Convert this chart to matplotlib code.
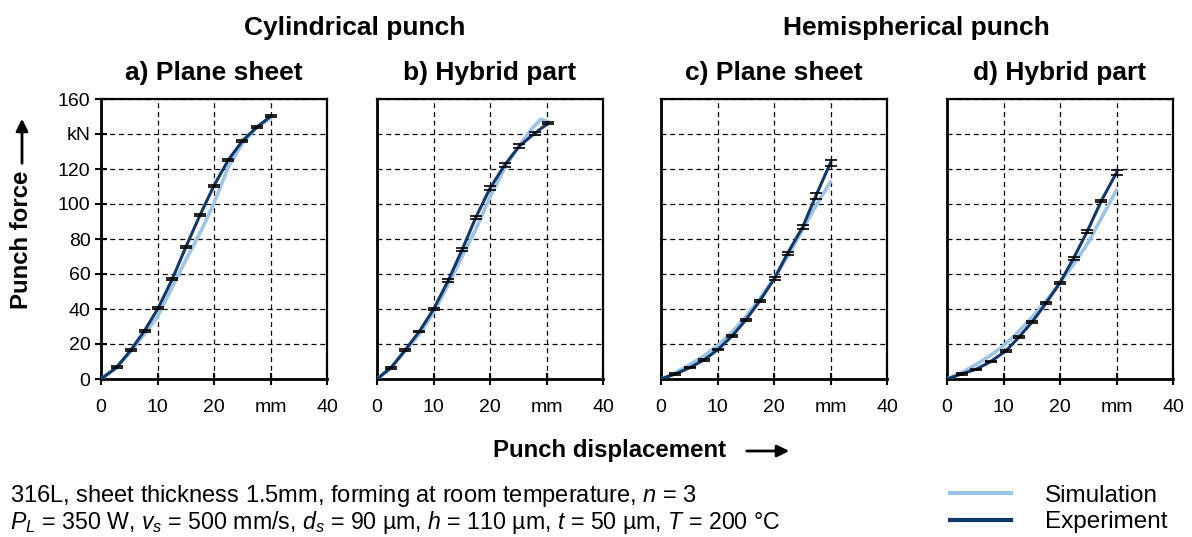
import matplotlib.pyplot as plt
from matplotlib.lines import Line2D

plt.rcParams['font.family'] = ['Liberation Sans', 'DejaVu Sans']
plt.rcParams['mathtext.fontset'] = 'custom'
plt.rcParams['mathtext.rm'] = 'Liberation Sans'
plt.rcParams['mathtext.it'] = 'Liberation Sans:italic'

# Kraft-Weg-Verläufe (Weg in mm, Kraft in kN)
exp_a_x = [0, 2.8, 5.3, 7.7, 10.1, 12.6, 15.0, 17.5, 20.0, 22.5, 25.0, 27.6, 30.1]
exp_a_y = [0, 6.7, 16.6, 27.6, 40.4, 57.0, 75.3, 93.5, 110.5, 125.0, 136.0, 144.0, 150.3]
exp_a_err = [0, 0.5, 0.5, 0.5, 0.6, 0.6, 0.6, 0.6, 0.6, 0.6, 0.6, 0.5, 0.5]
sim_a_x = [0, 2.5, 5, 7.5, 10, 12.5, 15, 17.5, 20, 22.5, 25, 27.5, 30]
sim_a_y = [0, 6.0, 14.7, 25.0, 35.6, 51.8, 68.0, 83.2, 100.4, 121.0, 134.5, 143.5, 149.0]

exp_b_x = [0, 2.5, 5.0, 7.5, 10.0, 12.6, 15.1, 17.5, 20.0, 22.6, 25.2, 27.9, 30.3]
exp_b_y = [0, 6.5, 16.6, 27.2, 39.8, 56.2, 74.1, 92.4, 109.0, 122.3, 133.1, 140.4, 146.1]
exp_b_err = [0, 0.5, 0.5, 0.5, 0.6, 0.8, 0.8, 1.0, 1.2, 1.0, 1.0, 0.8, 0.6]
sim_b_x = [0, 2.5, 5, 7.5, 10, 12.5, 15, 17.5, 20, 22.5, 25, 27.5, 29, 30.3]
sim_b_y = [0, 6.5, 16.0, 25.7, 38.0, 53.3, 69.5, 85.7, 104.0, 120.0, 132.5, 143.4, 148.4, 147.0]

exp_c_x = [0, 2.5, 5.1, 7.6, 10.1, 12.6, 15.0, 17.5, 20.1, 22.4, 25.1, 27.4, 30.0]
exp_c_y = [0, 2.8, 6.5, 10.9, 16.9, 24.6, 33.7, 44.7, 57.5, 71.8, 87.0, 104.6, 123.6]
exp_c_err = [0, 0.4, 0.4, 0.4, 0.4, 0.5, 0.5, 0.6, 0.8, 0.8, 1.0, 1.5, 1.8]
sim_c_x = [0, 2.5, 5, 7.5, 10, 12.5, 15, 17.5, 20, 22.5, 25, 27.5, 30]
sim_c_y = [0, 3.5, 8.0, 13.0, 19.0, 26.5, 35.5, 46.0, 57.5, 70.5, 85.0, 99.4, 112.7]

exp_d_x = [0, 2.6, 5.1, 7.7, 10.4, 12.7, 15.1, 17.5, 20.0, 22.4, 24.8, 27.3, 30.0]
exp_d_y = [0, 2.9, 5.5, 9.9, 16.0, 23.8, 32.7, 43.2, 55.0, 69.0, 84.2, 101.7, 117.9]
exp_d_err = [0, 0.4, 0.4, 0.4, 0.4, 0.5, 0.5, 0.6, 0.6, 0.8, 0.8, 0.8, 1.5]
sim_d_x = [0, 2.5, 5, 7.5, 10, 12.5, 15, 17.5, 20, 22.5, 25, 27.5, 30]
sim_d_y = [0, 3.5, 8.0, 13.0, 19.0, 26.5, 35.0, 44.5, 55.0, 66.0, 78.0, 93.0, 108.0]

titel = ['a) Plane sheet', 'b) Hybrid part', 'c) Plane sheet', 'd) Hybrid part']
gruppen = ['Cylindrical punch', 'Hemispherical punch']
x_ticks = [0, 10, 20, 30, 40]
x_labels = ['0', '10', '20', 'mm', '40']
y_ticks = [0, 20, 40, 60, 80, 100, 120, 140, 160]
y_labels = ['0', '20', '40', '60', '80', '100', '120', 'kN', '160']

FARBE_SIM = '#9DC3E6'
FARBE_EXP = '#12386A'

panels = [
    (exp_a_x, exp_a_y, exp_a_err, sim_a_x, sim_a_y),
    (exp_b_x, exp_b_y, exp_b_err, sim_b_x, sim_b_y),
    (exp_c_x, exp_c_y, exp_c_err, sim_c_x, sim_c_y),
    (exp_d_x, exp_d_y, exp_d_err, sim_d_x, sim_d_y),
]
links = [101, 377, 661, 947]  # linke Achsenkante in Pixel

fig = plt.figure(figsize=(11.92, 5.37), dpi=100)
W, H = 1192, 537

for i, (ex, ey, ee, sx, sy) in enumerate(panels):
    ax = fig.add_axes([links[i] / W, (H - 379) / H, 226 / W, 280 / H])
    ax.plot(sx, sy, color=FARBE_SIM, lw=2.6, zorder=3, solid_capstyle='round')
    ax.plot(ex, ey, color=FARBE_EXP, lw=2.2, zorder=4)
    ax.errorbar(ex[1:], ey[1:], yerr=ee[1:], fmt='none', ecolor='black',
                elinewidth=1.0, capsize=4.5, capthick=1.2, zorder=5)
    ax.set_xlim(0, 40)
    ax.set_ylim(0, 160)
    ax.set_xticks(x_ticks)
    ax.set_xticklabels(x_labels, fontsize=14)
    ax.set_yticks(y_ticks)
    ax.grid(True, color='black', ls=(0, (4, 3)), lw=0.9)
    ax.set_axisbelow(True)
    ax.tick_params(axis='x', direction='inout', length=9, width=1.5, pad=10)
    for s in ['left', 'bottom']:
        ax.spines[s].set_linewidth(2.0)
    for s in ['top', 'right']:
        ax.spines[s].set_linewidth(1.6)
    if i == 0:
        ax.set_yticklabels(y_labels, fontsize=14)
        ax.tick_params(axis='y', direction='inout', length=9, width=1.5, pad=3)
    else:
        ax.tick_params(axis='y', length=0, labelleft=False)
    # Teilbild-Überschrift
    fig.text((links[i] + 113) / W, 1 - 73 / H, titel[i], ha='center',
             va='center', fontsize=19, fontweight='bold')

# Gruppenüberschriften
fig.text(355 / W, 1 - 28 / H, gruppen[0], ha='center', va='center',
         fontsize=19, fontweight='bold')
fig.text(916 / W, 1 - 28 / H, gruppen[1], ha='center', va='center',
         fontsize=19, fontweight='bold')

# Achsenbeschriftungen mit Pfeilen
fig.text(22 / W, 1 - 240 / H, 'Punch force', rotation=90, ha='center',
         va='center', fontsize=17.3, fontweight='bold')
fig.add_artist(plt.Annotation('', xy=(22 / W, 1 - 116 / H),
                              xytext=(22 / W, 1 - 166 / H),
                              xycoords='figure fraction',
                              arrowprops=dict(arrowstyle='-|>', color='black',
                                              lw=2.0, mutation_scale=18)))
fig.text(610 / W, 1 - 451 / H, 'Punch displacement', ha='center',
         va='center', fontsize=17.3, fontweight='bold')
fig.add_artist(plt.Annotation('', xy=(792 / W, 1 - 451 / H),
                              xytext=(744 / W, 1 - 451 / H),
                              xycoords='figure fraction',
                              arrowprops=dict(arrowstyle='-|>', color='black',
                                              lw=2.0, mutation_scale=18)))

# Versuchsparameter
fig.text(10 / W, 1 - 496 / H,
         '316L, sheet thickness 1.5mm, forming at room temperature, $n$ = 3',
         ha='left', va='center', fontsize=17)
fig.text(10 / W, 1 - 523 / H,
         r'$P_L$ = 350 W, $v_s$ = 500 mm/s, $d_s$ = 90 µm, $h$ = 110 µm, '
         r'$t$ = 50 µm, $T$ = 200 °C',
         ha='left', va='center', fontsize=16.7)

handles = [Line2D([], [], color=FARBE_SIM, lw=3),
           Line2D([], [], color=FARBE_EXP, lw=3)]
fig.legend(handles, ['Simulation', 'Experiment'], loc='center left',
           bbox_to_anchor=(950 / W, 1 - 509 / H), frameon=False, fontsize=17.5,
           handlelength=2.5, handletextpad=1.4, labelspacing=0.2,
           borderpad=0.0, borderaxespad=0.0)

fig.savefig('out.png', dpi=100)
